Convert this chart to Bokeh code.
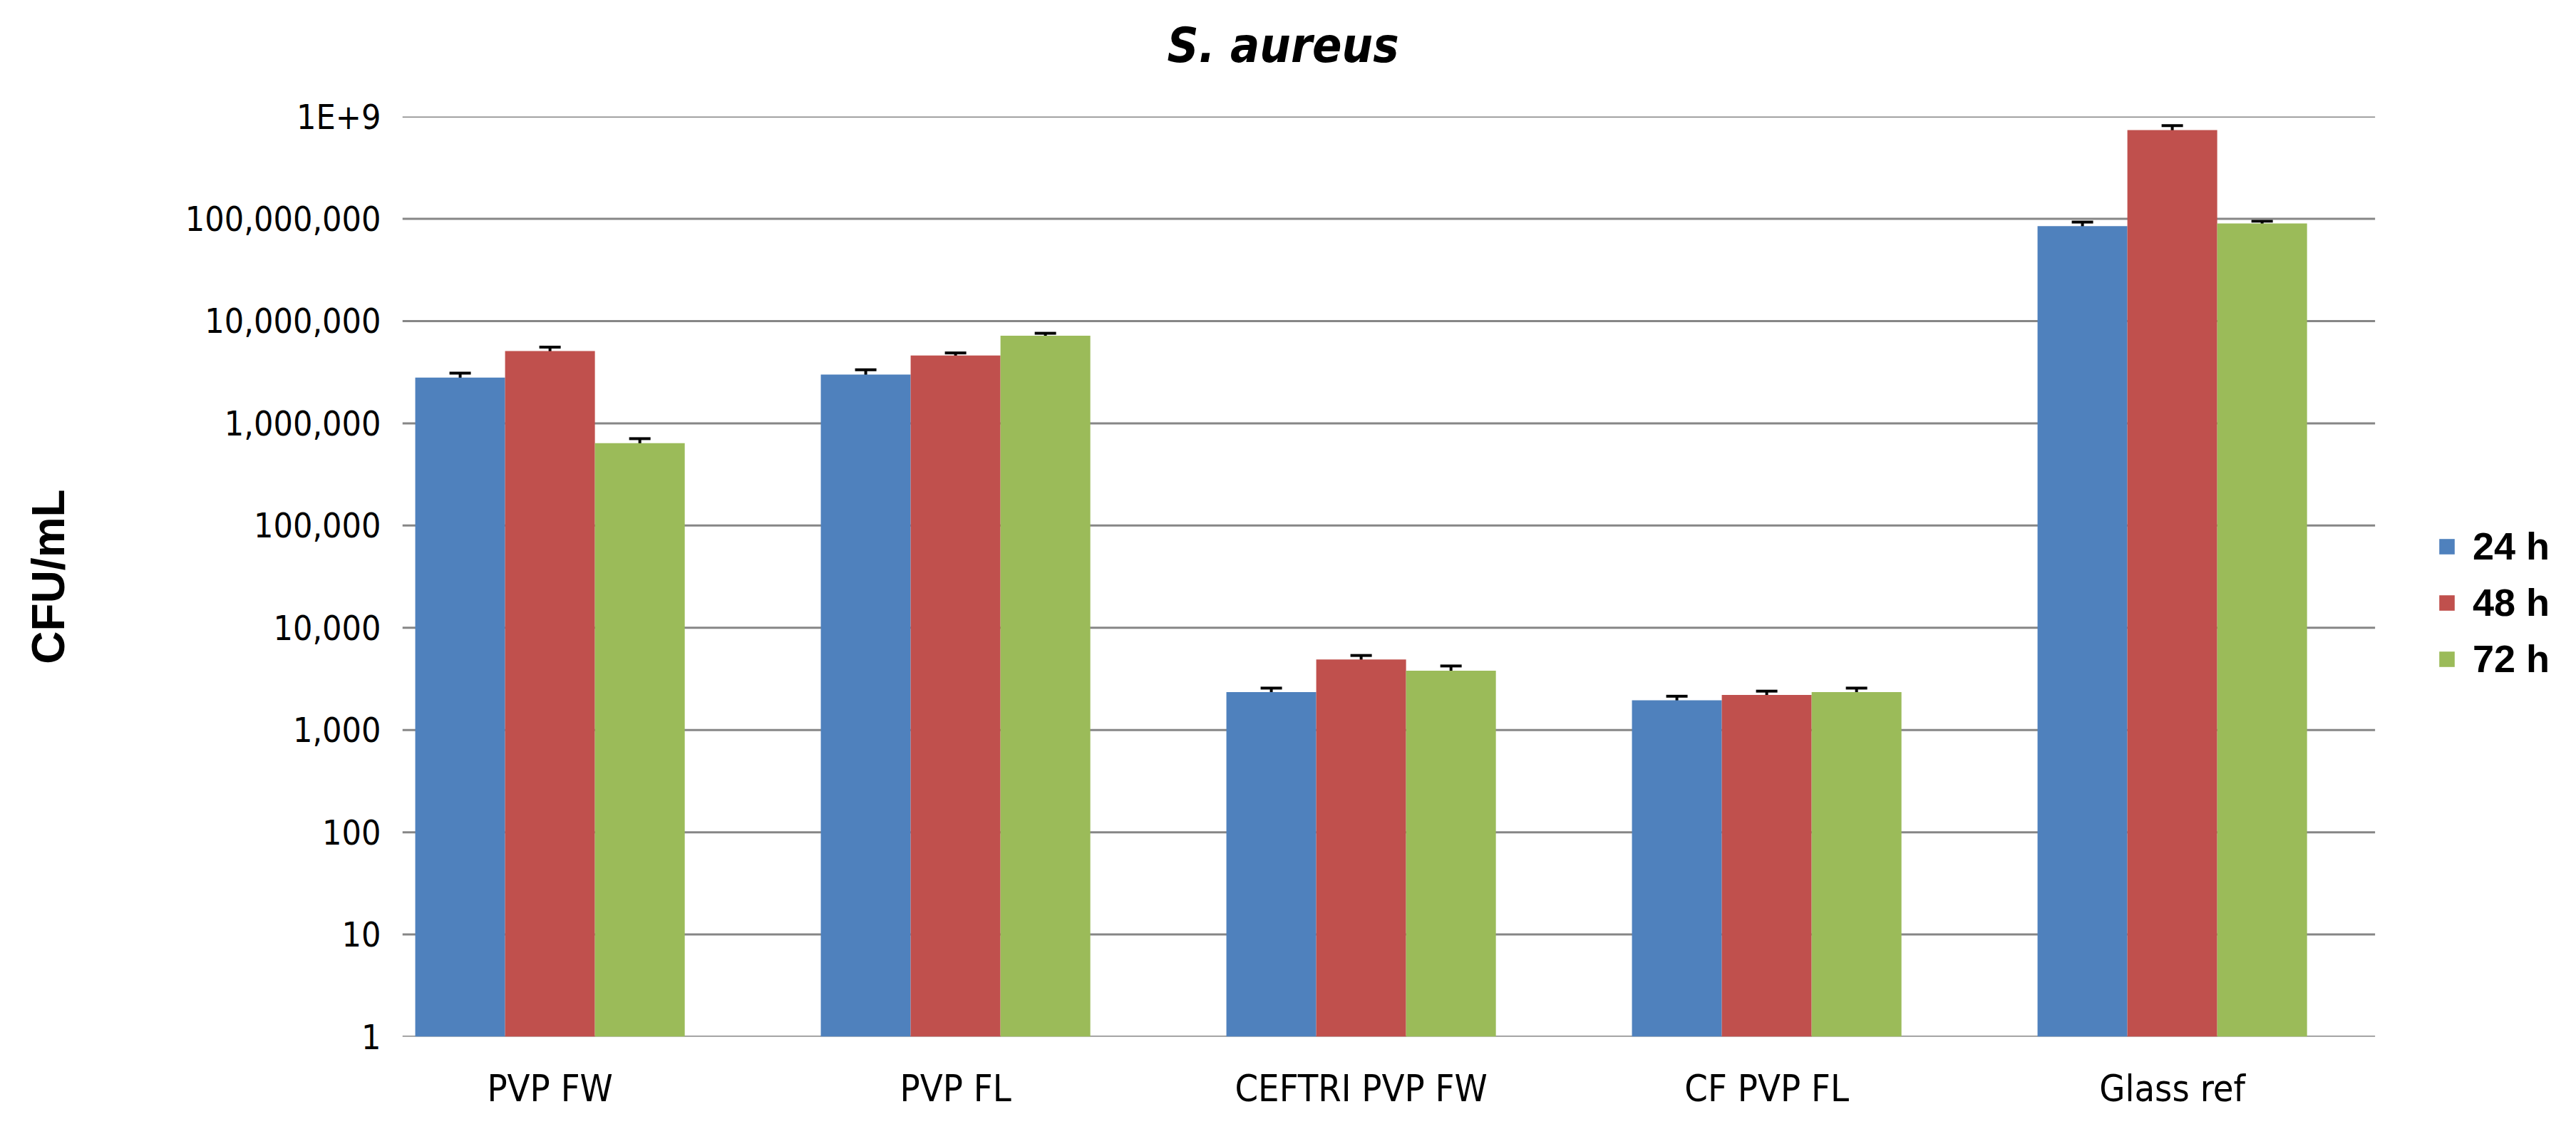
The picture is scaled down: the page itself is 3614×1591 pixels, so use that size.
from bokeh.plotting import figure
from bokeh.models import (ColumnDataSource, Range1d, FixedTicker, Legend, LegendItem,
                          Whisker, TeeHead, Title)
from bokeh.embed import file_html
from bokeh.resources import INLINE

# ---- data ----
categories = ["PVP FW", "PVP FL", "CEFTRI PVP FW", "CF PVP FL", "Glass ref"]
series_names = ["24 h", "48 h", "72 h"]
values_24h = [2.8e6, 3.0e6, 2.35e3, 1.95e3, 8.5e7]
values_48h = [5.1e6, 4.6e6, 4.9e3, 2.2e3, 7.4e8]
values_72h = [6.4e5, 7.2e6, 3.8e3, 2.35e3, 9.0e7]
errors_24h = [3.0e5, 3.4e5, 220, 190, 8.0e6]
errors_48h = [4.6e5, 2.8e5, 460, 200, 7.5e7]
errors_72h = [6.8e4, 4.0e5, 430, 220, 5.0e6]
y_tick_values = [1, 10, 100, 1000, 10000, 100000, 1000000, 10000000, 100000000, 1000000000]
y_tick_labels = ["1", "10", "100", "1,000", "10,000", "100,000", "1,000,000",
                 "10,000,000", "100,000,000", "1E+9"]
colors = ["#4F81BD", "#C0504D", "#9BBB59"]

FONT = "Liberation Sans"
NARROW = "DejaVu Sans Condensed"
W, H = 3598, 1575
BAR_W = 0.2215
BORDER_LEFT = 564
PX_PER_UNIT = 569
X_START, X_PLOT_END = -0.364, 4.5     # visible plot-area extent (category units)
X_END = X_START + (W - BORDER_LEFT) / PX_PER_UNIT   # frame extended to hold the legend
GRID_COLOR = "#868686"

p = figure(width=W, height=H, output_backend="svg", toolbar_location=None,
           x_range=Range1d(X_START, X_END), y_range=Range1d(1, 1.002e9), y_axis_type="log",
           min_border_left=BORDER_LEFT, min_border_right=0, min_border_top=163,
           min_border_bottom=121)
p.outline_line_color = None
p.background_fill_color = "white"
p.border_fill_color = "white"

# title (centered on the whole chart area, like the reference)
p.title.text = "S. aureus"
p.title.text_font = NARROW
p.title.text_font_style = "bold italic"
p.title.text_font_size = "68px"
p.title.text_color = "black"
p.title.align = "left"
p.title.offset = 1073
p.title.standoff = 43
# spacer between title and plot area
p.add_layout(Title(text=" ", text_font_size="16px", standoff=20), "above")

# horizontal gridlines over the plot area only
p.segment(x0=[X_START] * len(y_tick_values), x1=[X_PLOT_END] * len(y_tick_values),
          y0=y_tick_values, y1=y_tick_values, line_color=GRID_COLOR, line_width=3)

all_vals = [values_24h, values_48h, values_72h]
all_errs = [errors_24h, errors_48h, errors_72h]
offsets = [-BAR_W, 0.0, BAR_W]
items = []
for name, vals, errs, off, col in zip(series_names, all_vals, all_errs, offsets, colors):
    src = ColumnDataSource(dict(
        x=[i + off for i in range(len(categories))],
        top=vals,
        upper=[v + e for v, e in zip(vals, errs)],
        lower=[v - e for v, e in zip(vals, errs)],
    ))
    r = p.vbar(x="x", top="top", bottom=1, width=BAR_W, source=src,
               fill_color=col, line_color=None)
    w = Whisker(source=src, base="x", upper="upper", lower="lower",
                line_color="black", line_width=4,
                upper_head=TeeHead(size=30, line_color="black", line_width=4),
                lower_head=TeeHead(size=30, line_color="black", line_width=4))
    p.add_layout(w)
    items.append(LegendItem(label=name, renderers=[r]))

# axes
p.xaxis.ticker = FixedTicker(ticks=list(range(len(categories))))
p.xaxis.major_label_overrides = {i: c for i, c in enumerate(categories)}
p.xaxis.major_label_text_font = NARROW
p.xaxis.major_label_text_font_size = "52px"
p.xaxis.major_label_text_color = "black"
p.xaxis.major_tick_line_color = None
p.xaxis.major_tick_out = 0
p.xaxis.major_tick_in = 0
p.xaxis.minor_tick_line_color = None
p.xaxis.major_label_standoff = 42
p.xaxis.axis_line_color = None

p.yaxis.ticker = FixedTicker(ticks=y_tick_values)
p.yaxis.major_label_overrides = dict(zip(y_tick_values, y_tick_labels))
p.yaxis.major_label_text_font = NARROW
p.yaxis.major_label_text_font_size = "48px"
p.yaxis.major_label_text_color = "black"
p.yaxis.axis_line_color = None
p.yaxis.major_tick_line_color = None
p.yaxis.minor_tick_line_color = None
p.yaxis.major_tick_out = 0
p.yaxis.major_tick_in = 0
p.yaxis.major_label_standoff = 30
p.yaxis.axis_label = "CFU/mL"
p.yaxis.axis_label_text_font = FONT
p.yaxis.axis_label_text_font_style = "bold"
p.yaxis.axis_label_text_font_size = "64px"
p.yaxis.axis_label_text_color = "black"
p.yaxis.axis_label_standoff = 153

p.xgrid.visible = False
p.ygrid.visible = False

legend = Legend(items=items, location=(2855, 498))
legend.label_text_font = FONT
legend.label_text_font_style = "bold"
legend.label_text_font_size = "54px"
legend.label_text_color = "black"
legend.glyph_width = 27
legend.glyph_height = 27
legend.label_height = 64
legend.spacing = 15
legend.label_standoff = 23
legend.padding = 0
legend.margin = 0
legend.border_line_color = None
legend.background_fill_alpha = 0
p.add_layout(legend)

open("out.html", "w").write(file_html(p, INLINE))
